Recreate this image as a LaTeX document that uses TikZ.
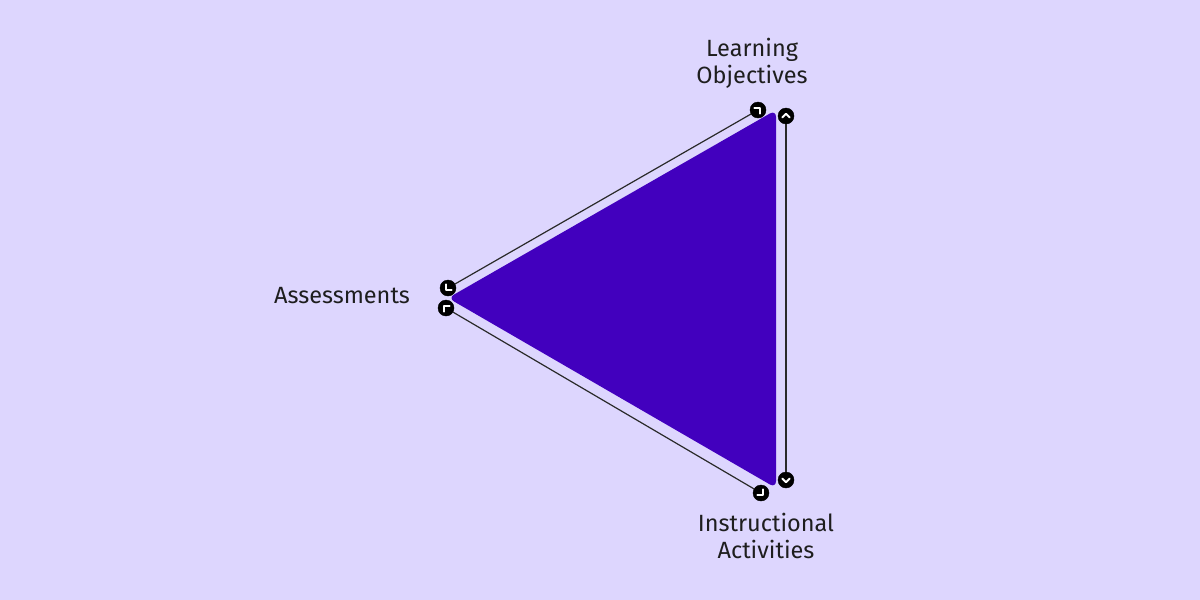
\documentclass[tikz,border=0pt]{standalone}
\usepackage{fontspec}
\setmainfont{Fira Sans}
\begin{document}
\begin{tikzpicture}[x=1pt,y=-1pt,
  lbl/.style={font=\fontsize{23.5}{27}\selectfont, text=txt, align=center, inner sep=0pt},
  endcircle/.style={circle, fill=black, draw=black, minimum size=16pt, inner sep=0pt},
  chev/.style={draw=white, line width=2pt, line cap=round, line join=round},
  link/.style={draw=linec, line width=1.2pt}]
\definecolor{bg}{HTML}{DDD6FE}
\definecolor{tri}{HTML}{4200BE}
\definecolor{txt}{HTML}{1E1E1E}
\definecolor{linec}{HTML}{2A2A2A}
\fill[bg] (0,0) rectangle (1200,600);
\useasboundingbox (0,0) rectangle (1200,600);
% triangle
\fill[tri, rounded corners=7pt] (776,110) -- (448,298) -- (776,488) -- cycle;
% end markers
\node[endcircle] (a1) at (758,110) {};
\node[endcircle] (a2) at (448,288) {};
\node[endcircle] (b1) at (786,116) {};
\node[endcircle] (b2) at (786,480) {};
\node[endcircle] (c1) at (446,308) {};
\node[endcircle] (c2) at (761,493) {};
\draw[link] (a2) -- (a1);
\draw[link] (b1) -- (b2);
\draw[link] (c1) -- (c2);
% chevrons
\foreach \n/\r in {a1/-45, a2/135, b1/0, b2/180, c1/45, c2/-135}{
  \begin{scope}[shift={(\n.center)}, rotate=\r]
    \draw[chev] (-3.6pt,-1.4pt) -- (0pt,2.2pt) -- (3.6pt,-1.4pt);
  \end{scope}
}
% labels
\node[lbl] (lo) at (752,63) {Learning\\Objectives};
\node[lbl] (as) at (342,296) {Assessments};
\node[lbl] (ia) at (766,536) {Instructional\\Activities};
\end{tikzpicture}
\end{document}
